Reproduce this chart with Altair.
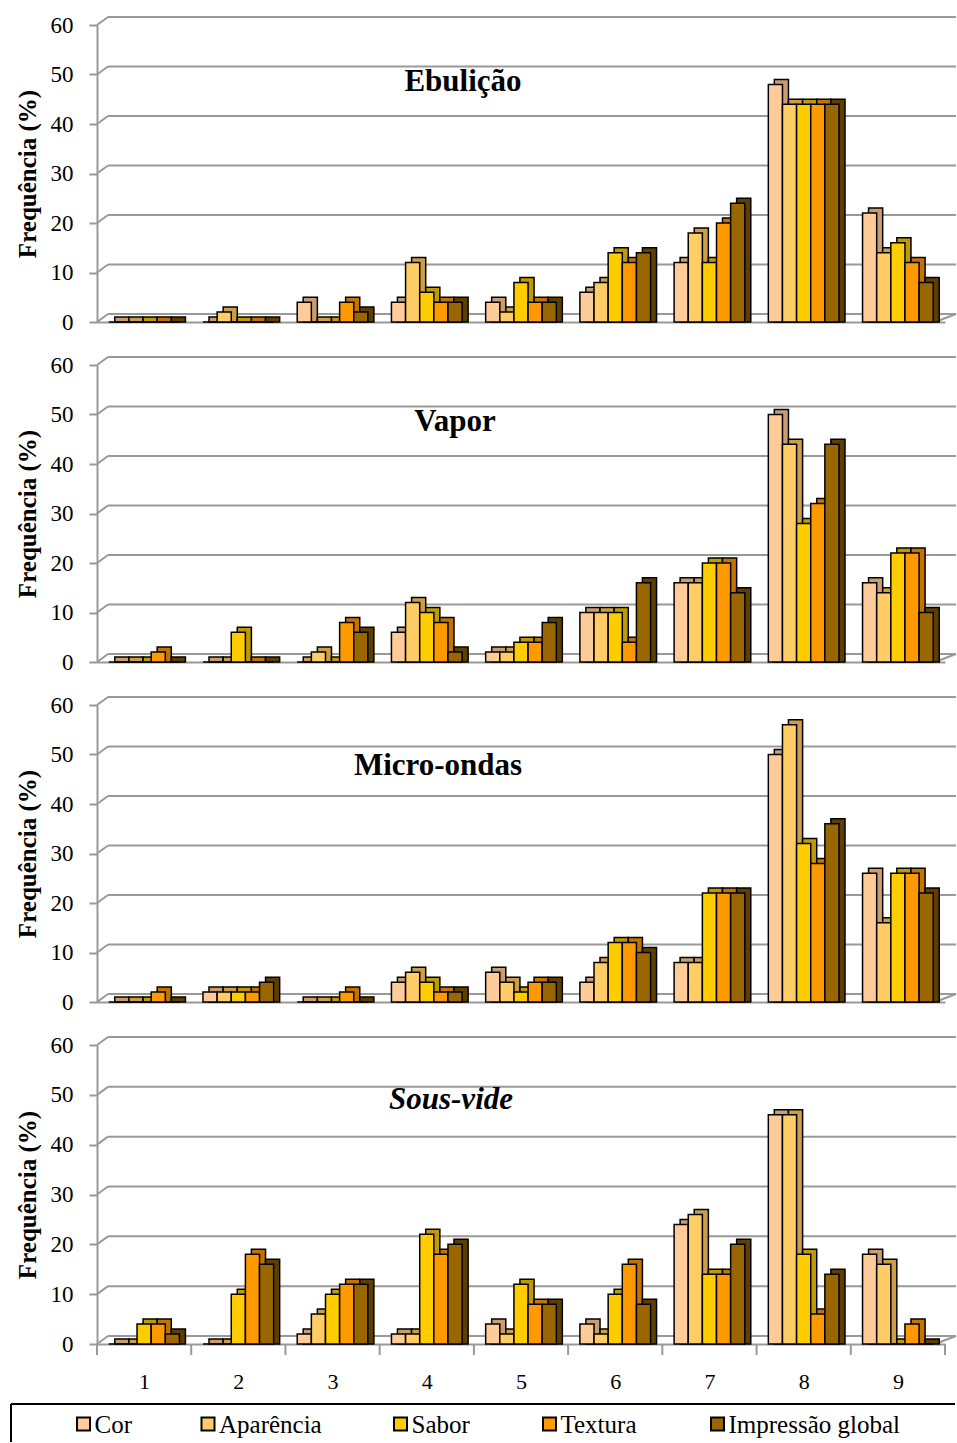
import json
import altair as alt
import pandas as pd

categories = ["1", "2", "3", "4", "5", "6", "7", "8", "9"]
series = ["Cor", "Aparência", "Sabor", "Textura", "Impressão global"]
grid_values = [0, 10, 20, 30, 40, 50, 60]
x_tick_positions = [0.5, 1.5, 2.5, 3.5, 4.5, 5.5, 6.5, 7.5, 8.5, 9.5]

ebulicao = {
    "Cor": [0, 0, 4, 4, 4, 6, 12, 48, 22],
    "Aparência": [0, 2, 0, 12, 2, 8, 18, 44, 14],
    "Sabor": [0, 0, 0, 6, 8, 14, 12, 44, 16],
    "Textura": [0, 0, 4, 4, 4, 12, 20, 44, 12],
    "Impressão global": [0, 0, 2, 4, 4, 14, 24, 44, 8],
}
vapor = {
    "Cor": [0, 0, 0, 6, 2, 10, 16, 50, 16],
    "Aparência": [0, 0, 2, 12, 2, 10, 16, 44, 14],
    "Sabor": [0, 6, 0, 10, 4, 10, 20, 28, 22],
    "Textura": [2, 0, 8, 8, 4, 4, 20, 32, 22],
    "Impressão global": [0, 0, 6, 2, 8, 16, 14, 44, 10],
}
micro_ondas = {
    "Cor": [0, 2, 0, 4, 6, 4, 8, 50, 26],
    "Aparência": [0, 2, 0, 6, 4, 8, 8, 56, 16],
    "Sabor": [0, 2, 0, 4, 2, 12, 22, 32, 26],
    "Textura": [2, 2, 2, 2, 4, 12, 22, 28, 26],
    "Impressão global": [0, 4, 0, 2, 4, 10, 22, 36, 22],
}
sous_vide = {
    "Cor": [0, 0, 2, 2, 4, 4, 24, 46, 18],
    "Aparência": [0, 0, 6, 2, 2, 2, 26, 46, 16],
    "Sabor": [4, 10, 10, 22, 12, 10, 14, 18, 0],
    "Textura": [4, 18, 12, 18, 8, 16, 14, 6, 4],
    "Impressão global": [2, 16, 12, 20, 8, 8, 20, 14, 0],
}

front_colors = ["#FFCC99", "#FFCC66", "#FFCC00", "#FF9900", "#996600"]
side_colors = ["#C99D70", "#CC9E45", "#BF9A00", "#C47300", "#5E3F00"]

FONT = "Liberation Serif"
GRAY = "#999999"
W, H = 848, 297
DX, DY = 11, 8
BW = 0.15  # bar width in category units (5 bars -> 75% of a category)
LEGEND_X = [-13.5, 111, 303.5, 452.5, 620.5]  # legend entry anchors (px from plot left)

yscale = alt.Scale(domain=[0, 60])
xscale = alt.Scale(domain=[0.5, 9.5], nice=False, zero=False)
colorscale = alt.Scale(domain=series, range=front_colors)


def long_df(d):
    rows = []
    for s in series:
        for c, v in zip(categories, d[s]):
            rows.append({"cat": c, "series": s, "value": v})
    return pd.DataFrame(rows)


def panel(title, d, title_x, title_y, italic=False, bottom=False, h=H):
    df = long_df(d)
    gdf = pd.DataFrame({"g": grid_values})
    one = pd.DataFrame({"name": [title]})

    if bottom:
        xaxis = alt.Axis(title=None, values=[int(c) for c in categories], labelFont=FONT,
                         labelFontSize=22, labelColor="black", labelPadding=27,
                         ticks=False, domainColor=GRAY, domainWidth=2, grid=False,
                         labelAngle=0, format="d")
    else:
        xaxis = alt.Axis(title=None, labels=False, ticks=False, domainColor=GRAY,
                         domainWidth=2, grid=False)
    yaxis = alt.Axis(title="Frequência (%)", titleFont=FONT, titleFontSize=25,
                     titleFontWeight="bold", titleColor="black", titlePadding=10,
                     values=grid_values, labelFont=FONT, labelFontSize=23,
                     labelColor="black", labelPadding=16, tickSize=8, tickWidth=2,
                     tickColor=GRAY, domainColor=GRAY, domainWidth=2, grid=False)

    grid = alt.Chart(gdf).mark_rule(color=GRAY, strokeWidth=2, yOffset=-DY, y2Offset=-DY).encode(
        y=alt.Y("g:Q", scale=yscale, axis=yaxis), x=alt.value(DX), x2=alt.value(W + DX))
    diag = alt.Chart(gdf).mark_rule(color=GRAY, strokeWidth=2, y2Offset=-DY).encode(
        y=alt.Y("g:Q", scale=yscale), y2="g:Q", x=alt.value(0), x2=alt.value(DX))
    floor_r = alt.Chart(gdf).transform_filter("datum.g == 0").mark_rule(
        color=GRAY, strokeWidth=2, y2Offset=-DY).encode(
        y=alt.Y("g:Q", scale=yscale), y2="g:Q", x=alt.value(W - 10), x2=alt.value(W + DX))

    bars = alt.Chart(df).transform_calculate(
        ci="toNumber(datum.cat)",
        si="indexof(%s, datum.series)" % json.dumps(series),
    ).transform_calculate(
        x0="datum.ci + (datum.si - 2) * %f - %f" % (BW, BW / 2),
        x1="datum.ci + (datum.si - 2) * %f + %f" % (BW, BW / 2),
    )
    back = bars.mark_bar(xOffset=6, x2Offset=6, yOffset=-5,
                         stroke="black", strokeWidth=1.5).encode(
        x=alt.X("x0:Q", scale=xscale, axis=xaxis),
        x2="x1:Q",
        y=alt.Y("value:Q", scale=yscale),
        y2=alt.datum(0),
        fill=alt.Fill("series:N", scale=alt.Scale(domain=series, range=side_colors), legend=None),
    )
    front = bars.mark_bar(stroke="black", strokeWidth=1.5).encode(
        x=alt.X("x0:Q", scale=xscale),
        x2="x1:Q",
        y=alt.Y("value:Q", scale=yscale),
        y2=alt.datum(0),
        color=alt.Color("series:N", scale=colorscale, legend=None),
    )
    label = alt.Chart(one).mark_text(font=FONT, fontSize=31, fontWeight="bold",
                                     fontStyle="italic" if italic else "normal",
                                     color="black", align="center", baseline="middle").encode(
        text="name:N", x=alt.value(title_x), y=alt.value(title_y))

    layers = [grid, diag, floor_r, back, front, label]
    if bottom:
        tdf = pd.DataFrame({"t": x_tick_positions})
        ticks = alt.Chart(tdf).mark_rule(color=GRAY, strokeWidth=2).encode(
            x=alt.X("t:Q", scale=xscale), y=alt.value(h), y2=alt.value(h + 11))
        box_top = alt.Chart(one).mark_rule(color="black", strokeWidth=2).encode(
            x=alt.value(-86), x2=alt.value(W + 10), y=alt.value(h + 60))
        box_left = alt.Chart(one).mark_rule(color="black", strokeWidth=2).encode(
            x=alt.value(-86), y=alt.value(h + 60), y2=alt.value(h + 98))
        layers += [ticks, box_top, box_left]
        ldf = pd.DataFrame({"series": series})
        for s, lx in zip(series, LEGEND_X):
            entry = alt.Chart(ldf).transform_filter(alt.datum.series == s)
            sq = entry.mark_square(size=169, stroke="black", strokeWidth=2, opacity=1).encode(
                x=alt.value(lx), y=alt.value(h + 80),
                color=alt.Color("series:N", scale=colorscale, legend=None))
            tx = entry.mark_text(font=FONT, fontSize=25, color="black", align="left",
                                 baseline="middle", dx=11).encode(
                x=alt.value(lx), y=alt.value(h + 81), text="series:N")
            layers += [sq, tx]
    return alt.layer(*layers).properties(width=W, height=h)


p1 = panel("Ebulição", ebulicao, 366, 57)
p2 = panel("Vapor", vapor, 358, 57)
p3 = panel("Micro-ondas", micro_ondas, 341, 61)
p4 = panel("Sous-vide", sous_vide, 354, 55, italic=True, bottom=True, h=299)

chart = alt.vconcat(p1, p2, p3, p4, spacing=20).properties(
    padding={"left": 10, "top": 14, "right": 0, "bottom": 0}
).configure_view(stroke=None)

chart.save("out.html", embed_options={"renderer": "svg", "actions": False})
